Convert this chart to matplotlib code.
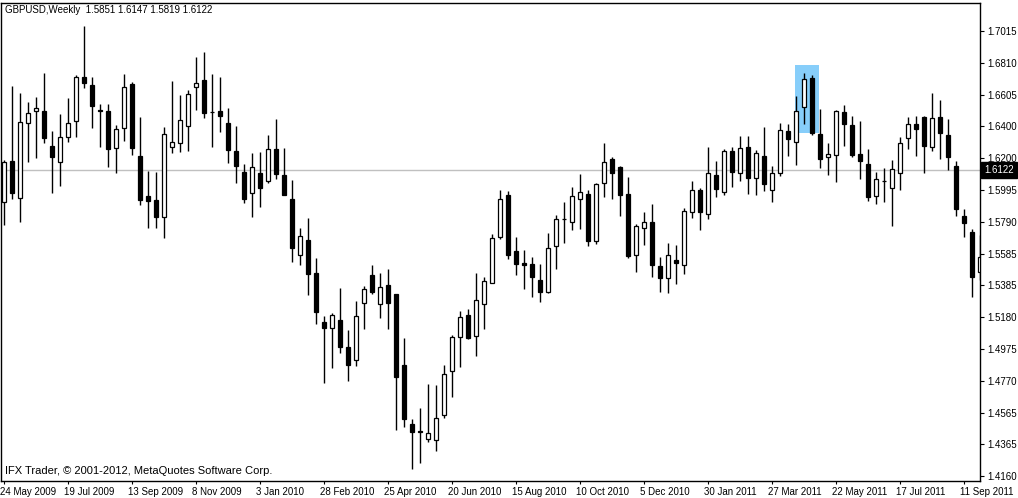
import numpy as np
import matplotlib
matplotlib.use("Agg")
import matplotlib.pyplot as plt
import matplotlib.transforms as mtransforms
from matplotlib.patches import Rectangle

plt.rcParams["font.family"] = ["Liberation Sans", "DejaVu Sans"]

# Chart header / footer
title_text = "GBPUSD,Weekly  1.5851 1.6147 1.5819 1.6122"
footer_text = "IFX Trader, \u00a9 2001-2012, MetaQuotes Software Corp."
bid_price = 1.6122

# Weekly OHLC, one entry per bar (24 May 2009 onwards)
opens = [1.5918, 1.6181, 1.5944, 1.6425, 1.6502, 1.6502, 1.6277, 1.6175, 1.6335, 1.6438,
         1.6720, 1.6669, 1.6508, 1.6502, 1.6265, 1.6393, 1.6675, 1.6213, 1.5957, 1.5931,
         1.5822, 1.6271, 1.6297, 1.6406, 1.6656, 1.6701, 1.6496, 1.6502, 1.6425, 1.6245,
         1.6111, 1.5976, 1.6104, 1.6053, 1.6258, 1.6091, 1.5937, 1.5578, 1.5674, 1.5463,
         1.5148, 1.5110, 1.5161, 1.4988, 1.4905, 1.5270, 1.5450, 1.5264, 1.5386, 1.5328,
         1.4873, 1.4494, 1.4449, 1.4398, 1.4392, 1.4552, 1.4834, 1.5052, 1.5193, 1.5059,
         1.5264, 1.5399, 1.5694, 1.5963, 1.5604, 1.5527, 1.5520, 1.5418, 1.5341, 1.5636,
         1.5809, 1.5790, 1.5937, 1.5970, 1.5668, 1.6040, 1.6194, 1.6143, 1.5970, 1.5578,
         1.5751, 1.5790, 1.5508, 1.5431, 1.5546, 1.5514, 1.5854, 1.5995, 1.5841, 1.6091,
         1.5982, 1.6245, 1.6104, 1.6271, 1.6072, 1.6213, 1.5995, 1.6104, 1.6374, 1.6303,
         1.6528, 1.6714, 1.6354, 1.6207, 1.6220, 1.6496, 1.6412, 1.6226, 1.6162, 1.5957,
         1.6053, 1.6008, 1.6104, 1.6329, 1.6419, 1.6463, 1.6271, 1.6463, 1.6348, 1.6149,
         1.5828, 1.5726, 1.5469]
highs = [1.6188, 1.6662, 1.6617, 1.6560, 1.6592, 1.6746, 1.6374, 1.6483, 1.6585, 1.6733,
         1.7047, 1.6720, 1.6547, 1.6547, 1.6412, 1.6739, 1.6688, 1.6463, 1.6117, 1.6111,
         1.6399, 1.6694, 1.6605, 1.6637, 1.6848, 1.6880, 1.6739, 1.6720, 1.6521, 1.6406,
         1.6162, 1.6232, 1.6239, 1.6348, 1.6451, 1.6265, 1.6059, 1.5751, 1.5816, 1.5559,
         1.5187, 1.5206, 1.5367, 1.5097, 1.5283, 1.5379, 1.5514, 1.5463, 1.5488, 1.5328,
         1.5046, 1.4526, 1.4597, 1.4751, 1.4744, 1.4873, 1.5065, 1.5219, 1.5232, 1.5463,
         1.5437, 1.5713, 1.5995, 1.5989, 1.5694, 1.5610, 1.5565, 1.5520, 1.5719, 1.5835,
         1.5918, 1.6014, 1.6098, 1.5995, 1.6040, 1.6297, 1.6207, 1.6149, 1.6079, 1.5777,
         1.5854, 1.5905, 1.5565, 1.5655, 1.5642, 1.5880, 1.6053, 1.6008, 1.6271, 1.6181,
         1.6258, 1.6271, 1.6342, 1.6342, 1.6252, 1.6399, 1.6149, 1.6425, 1.6419, 1.6598,
         1.6746, 1.6733, 1.6515, 1.6297, 1.6508, 1.6540, 1.6470, 1.6438, 1.6258, 1.6111,
         1.6136, 1.6188, 1.6335, 1.6463, 1.6470, 1.6470, 1.6617, 1.6572, 1.6451, 1.6181,
         1.5873, 1.5745, 1.5706]
lows = [1.5771, 1.5937, 1.5790, 1.6175, 1.6200, 1.6297, 1.5976, 1.6021, 1.6303, 1.6335,
        1.6649, 1.6393, 1.6271, 1.6143, 1.6104, 1.6309, 1.6220, 1.5899, 1.5751, 1.5751,
        1.5687, 1.6232, 1.6239, 1.6245, 1.6508, 1.6457, 1.6271, 1.6367, 1.6168, 1.6040,
        1.5912, 1.5822, 1.5886, 1.6040, 1.6066, 1.5963, 1.5533, 1.5514, 1.5322, 1.5136,
        1.4757, 1.4853, 1.4950, 1.4770, 1.4866, 1.5104, 1.5328, 1.5174, 1.5104, 1.4456,
        1.4475, 1.4206, 1.4244, 1.4379, 1.4321, 1.4533, 1.4667, 1.4860, 1.5039, 1.4930,
        1.5104, 1.5399, 1.5681, 1.5553, 1.5450, 1.5360, 1.5309, 1.5277, 1.5334, 1.5488,
        1.5655, 1.5739, 1.5745, 1.5636, 1.5649, 1.5950, 1.5937, 1.5828, 1.5559, 1.5469,
        1.5642, 1.5437, 1.5341, 1.5334, 1.5392, 1.5456, 1.5816, 1.5739, 1.5809, 1.5950,
        1.5963, 1.6014, 1.6053, 1.5970, 1.5963, 1.5989, 1.5918, 1.6085, 1.6213, 1.6156,
        1.6419, 1.6348, 1.6136, 1.6091, 1.6046, 1.6277, 1.6207, 1.6066, 1.5925, 1.5905,
        1.5918, 1.5764, 1.5995, 1.6258, 1.6213, 1.6104, 1.6245, 1.6194, 1.6123, 1.5828,
        1.5694, 1.5309, 1.5418]
closes = [1.6175, 1.5976, 1.6431, 1.6489, 1.6521, 1.6329, 1.6207, 1.6335, 1.6425, 1.6720,
          1.6681, 1.6534, 1.6502, 1.6258, 1.6386, 1.6656, 1.6265, 1.5931, 1.5925, 1.5822,
          1.6354, 1.6303, 1.6444, 1.6611, 1.6681, 1.6489, 1.6494, 1.6470, 1.6252, 1.6149,
          1.5937, 1.6143, 1.6008, 1.6258, 1.6098, 1.5963, 1.5623, 1.5700, 1.5456, 1.5213,
          1.5110, 1.5193, 1.4988, 1.4873, 1.5187, 1.5360, 1.5341, 1.5373, 1.5270, 1.4796,
          1.4526, 1.4443, 1.4443, 1.4436, 1.4533, 1.4815, 1.5052, 1.5181, 1.5046, 1.5290,
          1.5411, 1.5687, 1.5937, 1.5578, 1.5520, 1.5514, 1.5437, 1.5341, 1.5623, 1.5809,
          1.5806, 1.5957, 1.5982, 1.5668, 1.6034, 1.6175, 1.6104, 1.5963, 1.5572, 1.5764,
          1.5790, 1.5514, 1.5431, 1.5578, 1.5527, 1.5860, 1.5995, 1.5854, 1.6104, 1.6002,
          1.6245, 1.6111, 1.6265, 1.6072, 1.6232, 1.6034, 1.6104, 1.6380, 1.6322, 1.6502,
          1.6707, 1.6361, 1.6194, 1.6226, 1.6502, 1.6419, 1.6220, 1.6181, 1.5950, 1.6066,
          1.6052, 1.6130, 1.6297, 1.6419, 1.6386, 1.6277, 1.6457, 1.6361, 1.6207, 1.5873,
          1.5783, 1.5437, 1.5565]

# Time axis labels, one every 8 weekly bars
date_labels = ["24 May 2009", "19 Jul 2009", "13 Sep 2009", "8 Nov 2009", "3 Jan 2010",
               "28 Feb 2010", "25 Apr 2010", "20 Jun 2010", "15 Aug 2010", "10 Oct 2010",
               "5 Dec 2010", "30 Jan 2011", "27 Mar 2011", "22 May 2011", "17 Jul 2011",
               "11 Sep 2011"]
price_labels = ["1.7015", "1.6810", "1.6605", "1.6400", "1.6200", "1.5995", "1.5790",
                "1.5585", "1.5385", "1.5180", "1.4975", "1.4770", "1.4565", "1.4365", "1.4160"]

# Highlight rectangle object drawn on the chart (bar index / price anchors)
box_bar_from, box_bar_to = 98.9, 101.9
box_price_high, box_price_low = 1.6797, 1.6361

W, H = 1018, 498
fig = plt.figure(figsize=(W / 100, H / 100), dpi=100)
fig.patch.set_facecolor("white")
ax = fig.add_axes([0.5 / W, 17 / H, 979.5 / W, 478 / H])

x = np.arange(len(opens))
o = np.array(opens)
c = np.array(closes)
up = c >= o

# highlight box behind everything
ax.add_patch(Rectangle((box_bar_from, box_price_low), box_bar_to - box_bar_from,
                       box_price_high - box_price_low, facecolor="#87CEFA",
                       edgecolor="none", zorder=0))

# bid line
ax.axhline(bid_price, color="#C0C0C0", linewidth=1, zorder=0.5)

# wicks
ax.vlines(x, lows, highs, color="black", linewidth=1, zorder=2)

# bodies
body_low = np.minimum(o, c)
body_h = np.abs(c - o)
ax.bar(x, body_h, bottom=body_low, width=0.55,
       color=np.where(up, "white", "black"), edgecolor="black",
       linewidth=0.9, zorder=3)

ax.set_xlim(-0.44, 122.0)
ax.set_ylim(1.41285, 1.71946)

# right price scale
ax.yaxis.tick_right()
ax.set_yticks(np.linspace(1.7015, 1.4160, len(price_labels)))
ax.set_yticklabels(price_labels)
ax.tick_params(axis="y", direction="out", length=3, width=0.8, labelsize=7, pad=2)

# bottom time scale
ax.set_xticks(np.arange(len(date_labels)) * 8)
ax.set_xticklabels(date_labels)
ax.tick_params(axis="x", direction="out", length=2, width=0.8, labelsize=7, pad=2)
offset = mtransforms.ScaledTranslation(-3 / 72, 0, fig.dpi_scale_trans)
for lbl in ax.get_xticklabels():
    lbl.set_horizontalalignment("left")
    lbl.set_transform(lbl.get_transform() + offset)

for sp in ax.spines.values():
    sp.set_color("black")
    sp.set_linewidth(1)

# bid price tag on the scale
tag_tr = mtransforms.blended_transform_factory(ax.transAxes, ax.transData)
ax.text(1.0045, bid_price, "1.6122", transform=tag_tr, color="white", fontsize=7,
        va="center", ha="left", clip_on=False,
        bbox=dict(boxstyle="square,pad=0.3", facecolor="black", edgecolor="black"))

fig.text(5 / W, 1 - 10 / H, title_text, fontsize=7, va="center", ha="left")
fig.text(5 / W, 1 - 471 / H, footer_text, fontsize=8, va="center", ha="left")

fig.savefig("out.png", dpi=100, facecolor="white")
